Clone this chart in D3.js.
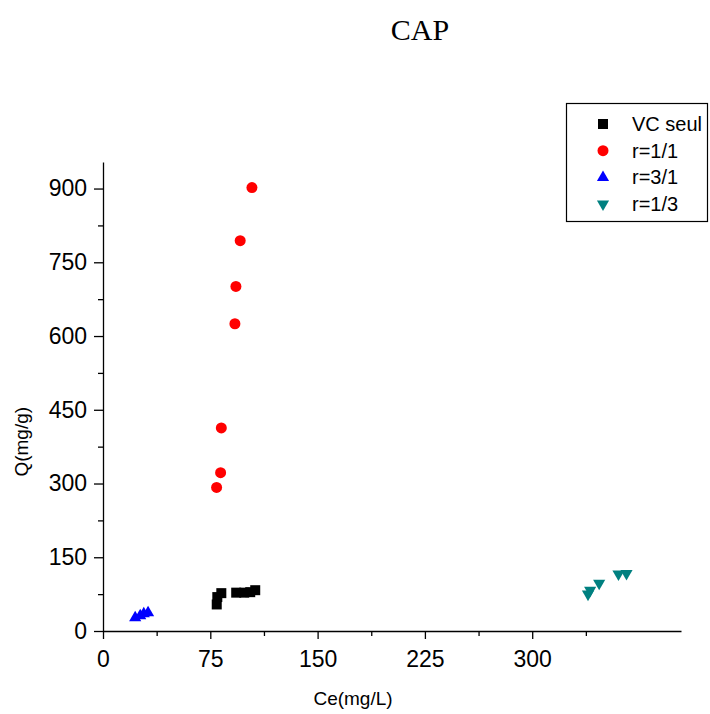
<!DOCTYPE html>
<html>
<head>
<meta charset="utf-8">
<script src="https://cdn.jsdelivr.net/npm/d3@7"></script>
<style>
  body { margin: 0; background: #fff; }
  text { font-family: "Liberation Sans", Arial, sans-serif; }
</style>
</head>
<body>
<script>
// Данные.
const seriesNames = ['VC seul', 'r=1/1', 'r=3/1', 'r=1/3'];
const vcCe = [79.5, 79.9, 82.7, 93.1, 98.7, 102.9, 106.4];
const vcQ = [54, 69, 77, 78, 78, 79, 83];
const r11Ce = [79.4, 82.2, 82.7, 92.2, 92.9, 95.9, 104.1];
const r11Q = [292, 322, 413, 625, 701, 794, 902];
const r31Ce = [22.5, 26, 28.5, 31.5];
const r31Q = [27, 31, 35, 37];
const r13Ce = [339, 340.5, 346.8, 360.3, 365.9];
const r13Q = [75, 83, 97, 116, 117];
const xTicks = [0, 75, 150, 225, 300];
const xMinor = [37.5, 112.5, 187.5, 262.5, 337.5];
const yTicks = [0, 150, 300, 450, 600, 750, 900];
const yMinor = [75, 225, 375, 525, 675, 825];

const width = 710, height = 714;
const margin = { top: 162, right: 29, bottom: 83, left: 103 };

const svg = d3.select('body').append('svg')
  .attr('width', width)
  .attr('height', height);

const xScale = d3.scaleLinear().domain([0, 404]).range([margin.left, width - margin.right]);
const yScale = d3.scaleLinear().domain([0, 954]).range([height - margin.bottom, margin.top]);

// Серии: цвет и форма маркера.
const series = [
  { name: seriesNames[0], ce: vcCe, q: vcQ, fill: '#000000', shape: d3.symbolSquare, size: 100, rot: 0 },
  { name: seriesNames[1], ce: r11Ce, q: r11Q, fill: '#ff0000', shape: d3.symbolCircle, size: 95, rot: 0 },
  { name: seriesNames[2], ce: r31Ce, q: r31Q, fill: '#0000ff', shape: d3.symbolTriangle, size: 64, rot: 0 },
  { name: seriesNames[3], ce: r13Ce, q: r13Q, fill: '#008080', shape: d3.symbolTriangle, size: 64, rot: 180 }
];

// Оси.
const xAxisLayer = svg.append('g').attr('transform', `translate(0, ${yScale(0)})`);
xAxisLayer.call(d3.axisBottom(xScale).tickValues(xTicks).tickSize(8).tickSizeOuter(0).tickPadding(12));
xAxisLayer.append('g').call(d3.axisBottom(xScale).tickValues(xMinor).tickSize(5).tickFormat('').tickSizeOuter(0))
  .select('.domain').remove();

const yAxisLayer = svg.append('g').attr('transform', `translate(${xScale(0)}, 0)`);
yAxisLayer.call(d3.axisLeft(yScale).tickValues(yTicks).tickSize(9).tickSizeOuter(0).tickPadding(7));
yAxisLayer.append('g').call(d3.axisLeft(yScale).tickValues(yMinor).tickSize(5).tickFormat('').tickSizeOuter(0))
  .select('.domain').remove();

svg.selectAll('.domain, .tick line').attr('stroke', '#000').attr('stroke-width', 1.3);
svg.selectAll('.tick text').attr('font-size', 23).attr('fill', '#000')
  .attr('font-family', '"Liberation Sans", Arial, sans-serif');

// Подписи осей и заголовок.
svg.append('text')
  .attr('x', 353)
  .attr('y', 705)
  .attr('text-anchor', 'middle')
  .attr('font-size', 19)
  .text('Ce(mg/L)');

svg.append('text')
  .attr('transform', `translate(28, ${yScale(385)}) rotate(-90)`)
  .attr('text-anchor', 'middle')
  .attr('font-size', 19)
  .text('Q(mg/g)');

svg.append('text')
  .attr('x', 420)
  .attr('y', 40)
  .attr('text-anchor', 'middle')
  .attr('font-size', 30)
  .style('font-family', '"Liberation Serif", "Times New Roman", serif')
  .text('CAP');

// Точки.
const pointsLayer = svg.append('g');
series.forEach(s => {
  const pts = s.ce.map((c, i) => ({ ce: c, q: s.q[i] }));
  pointsLayer.append('g').selectAll('path')
    .data(pts)
    .enter()
    .append('path')
    .attr('d', d3.symbol().type(s.shape).size(s.size))
    .attr('transform', d => `translate(${xScale(d.ce)}, ${yScale(d.q)}) rotate(${s.rot})`)
    .attr('fill', s.fill);
});

// Легенда.
const legend = svg.append('g');
legend.append('rect')
  .attr('x', 566.5).attr('y', 103.5)
  .attr('width', 141).attr('height', 118)
  .attr('fill', '#fff').attr('stroke', '#000').attr('stroke-width', 1.2);

series.forEach((s, i) => {
  const y = 124 + i * 26.7;
  legend.append('path')
    .attr('d', d3.symbol().type(s.shape).size(s.size))
    .attr('transform', `translate(603, ${y}) rotate(${s.rot})`)
    .attr('fill', s.fill);
  legend.append('text')
    .attr('x', 632)
    .attr('y', y + 7)
    .attr('font-size', 20)
    .text(s.name);
});
</script>
</body>
</html>
